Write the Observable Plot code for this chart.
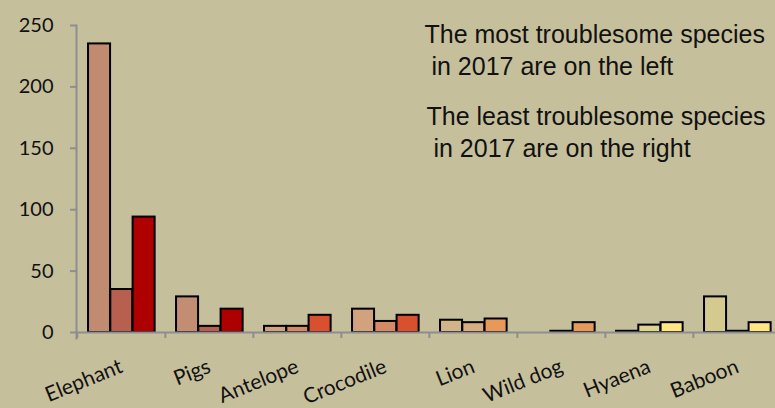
<!DOCTYPE html>
<html>
<head>
<meta charset="utf-8">
<script src="https://cdn.jsdelivr.net/npm/d3@7"></script>
<script src="https://cdn.jsdelivr.net/npm/@observablehq/plot@0.6"></script>
<style>
  html, body { margin: 0; padding: 0; background: #C6BF9B; }
  #chart svg { display: block; background: #C6BF9B; }
</style>
</head>
<body>
<div id="chart"></div>
<script>
// ---- data ----
const categories = ["Elephant", "Pigs", "Antelope", "Crocodile", "Lion", "Wild dog", "Hyaena", "Baboon"];
const seriesNames = ["Series 1", "Series 2", "Series 3"];
const series1 = [235, 29, 5, 19, 10, null, 1, 29];
const series2 = [35, 5, 5, 9, 8, 1, 6, 1];
const series3 = [94, 19, 14, 14, 11, 8, 8, 8];
const colors1 = ["#C08B70", "#C28D72", "#D2A27E", "#D2A27E", "#D2B48A", "#D2B48A", "#DDD48E", "#D4CA90"];
const colors2 = ["#B86050", "#B86050", "#D58A66", "#D58A66", "#D8AD80", "#D8AD80", "#DDD48E", "#D4CA90"];
const colors3 = ["#AE0000", "#AE0000", "#D8502E", "#D8502E", "#E8995A", "#E8995A", "#FFE680", "#FFE680"];
const yTicks = [0, 50, 100, 150, 200, 250];
const note1 = "The most troublesome species\n\u00a0in 2017 are on the left";
const note2 = "The least troublesome species\n\u00a0in 2017 are on the right";

const allValues = [series1, series2, series3];
const allColors = [colors1, colors2, colors3];
const rows = [];
allValues.forEach((vals, k) => vals.forEach((v, i) => {
  rows.push({cat: categories[i], series: seriesNames[k], k, v, color: allColors[k][i]});
}));

// ---- layout ----
const W = 775, H = 408;
const mL = 76, mR = -7, mT = 25, mB = 76;
const bw = (W - mL - mR) / categories.length;   // band width
const groupOffset = bw * 0.125;
const barW = bw * 0.2525;
const axisGray = "#8E8E8E";

const barMarks = seriesNames.map((s, k) => Plot.barY(rows.filter(r => r.k === k && r.v != null), {
  x: "cat", y: "v", fill: "color", stroke: "#000", strokeWidth: 2,
  insetLeft: groupOffset + k * barW,
  insetRight: bw - groupOffset - (k + 1) * barW
}));

const chart = Plot.plot({
  width: W, height: H,
  marginLeft: mL, marginRight: mR, marginTop: mT, marginBottom: mB,
  style: {background: "#C6BF9B", fontFamily: "Lato"},
  x: {type: "band", domain: categories, paddingInner: 0, paddingOuter: 0, axis: null},
  y: {domain: [0, 250], axis: null},
  color: {type: "identity"},
  marks: [
    ...barMarks,
    Plot.ruleY([0], {stroke: axisGray, strokeWidth: 2}),
    Plot.frame({anchor: "left", stroke: axisGray, strokeWidth: 2, insetBottom: -6}),
    Plot.axisY({ticks: yTicks, tickSize: 6, tickPadding: 17, stroke: axisGray, strokeWidth: 2,
      fontSize: 20, fontFamily: "Lato", fill: "#111", label: null}),
    Plot.axisX({ticks: categories, tickSize: 6, stroke: axisGray, strokeWidth: 2, text: null,
      dx: -bw / 2, label: null}),
    Plot.axisX({ticks: categories, tickSize: 0, tickRotate: -22, tickPadding: 33, dx: 0,
      fontSize: 21, fontFamily: "Lato", fill: "#111", label: null}),
    Plot.text([note1], {text: d => d, frameAnchor: "top-left", textAnchor: "start", lineAnchor: "top",
      dx: 348, dy: -5, lineHeight: 1.28, fontSize: 25, fontFamily: "Liberation Sans", fill: "#111"}),
    Plot.text([note2], {text: d => d, frameAnchor: "top-left", textAnchor: "start", lineAnchor: "top",
      dx: 350, dy: 77, lineHeight: 1.28, fontSize: 25, fontFamily: "Liberation Sans", fill: "#111"})
  ]
});
document.getElementById("chart").appendChild(chart);
</script>
</body>
</html>
